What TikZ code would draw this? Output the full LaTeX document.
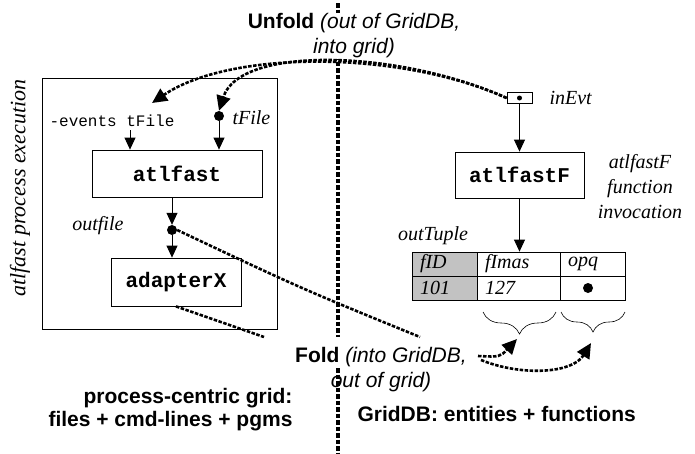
\documentclass[tikz,border=0pt]{standalone}
\usepackage{fontspec}
\setmainfont{Liberation Serif}
\setsansfont{Liberation Sans}
\setmonofont{Liberation Mono}
\usetikzlibrary{arrows.meta,decorations.pathreplacing}
\definecolor{cellgray}{gray}{0.76}
\tikzset{
  pbox/.style={draw, line width=0.8pt, font=\fontsize{21}{24}\selectfont\ttfamily\bfseries},
  lbl/.style={font=\fontsize{20}{25}\selectfont\itshape},
  capt/.style={font=\fontsize{21}{25}\selectfont\sffamily},
  cell/.style={draw, line width=0.8pt, minimum height=24pt, inner ysep=0pt, inner xsep=8pt,
    text width=#1, align=left, font=\fontsize{20}{24}\selectfont\itshape},
  dot/.style={circle, fill, inner sep=0pt, minimum size=#1},
  dot/.default=10pt,
  arr/.style={-{Triangle[length=12pt,width=11pt]}, line width=0.8pt},
  fdash/.style={line width=2.6pt, dash pattern=on 3.5pt off 1.5pt},
  farr/.style={fdash, -{Triangle[length=15pt,width=14pt]}},
  divider/.style={line width=3.5pt, dash pattern=on 4.5pt off 2pt},
  brc/.style={decorate, decoration={brace, mirror, amplitude=#1}, line width=0.6pt}
}
\begin{document}
\begin{tikzpicture}[x=1pt,y=-1pt]
\useasboundingbox (0,0) rectangle (695,453);
% grid | GridDB divider
\draw[divider] (338,3) -- (338,337);
\draw[divider] (338,368) -- (338,453);
% left: process-centric grid
\node[draw, line width=0.8pt, minimum width=235pt, minimum height=251pt] (proc) at (159.5,203.5) {};
\node[lbl, font=\fontsize{22}{25}\selectfont\itshape, rotate=90] (procname) at (20,188) {atlfast process execution};
\node[font=\fontsize{16}{20}\selectfont\ttfamily] (evtxt) at (112,121) {-events tFile};
\node[dot] (tfdot) at (219,116) {};
\node[lbl, anchor=west] (tflbl) at (229,118) {tFile};
\node[pbox, minimum width=170pt, minimum height=47pt] (atlfast) at (177,173.5) {atlfast};
\node[dot] (outdot) at (172,230) {};
\node[lbl, anchor=east] (outlbl) at (127,226) {outfile};
\node[pbox, minimum width=130pt, minimum height=48pt] (adapter) at (176,282) {adapterX};
\coordinate (evin) at ([xshift=18pt]evtxt.south);
\draw[arr] (evin) -- (evin |- atlfast.north);
\draw[arr] (tfdot) -- (tfdot |- atlfast.north);
\draw[arr] (outdot |- atlfast.south) -- (outdot.north);
\draw[arr] (outdot) -- (outdot |- adapter.north);
% right: GridDB
\node[draw, line width=0.8pt, minimum width=25pt, minimum height=11pt, inner sep=0pt] (inevt) at (519.5,98) {};
\node[dot=5pt] (evdot) at (inevt) {};
\node[lbl, anchor=west] (evlbl) at (546,98) {inEvt};
\node[pbox, minimum width=129pt, minimum height=46pt] (atlfastF) at (519.5,175) {atlfastF};
\node[lbl, align=center] (fnlbl) at (640,187) {atlfastF\\function\\invocation};
\node[lbl] (tuplbl) at (433,236) {outTuple};
\node[cell=49pt, fill=cellgray] (fid) at (444.5,264) {fID};
\node[cell=67pt] (fimas) at (518.5,264) {fImas};
\node[cell=49pt] (opq) at (592.5,264) {opq};
\node[cell=49pt, fill=cellgray] (fidv) at (444.5,288) {101};
\node[cell=67pt] (fimasv) at (518.5,288) {127};
\node[cell=49pt] (opqv) at (592.5,288) {};
\node[dot] (opqdot) at (588,288) {};
\draw[arr] (inevt.south) -- (atlfastF.north);
\draw[arr] (atlfastF.south) -- (atlfastF.south |- fimas.north);
% braces under the tuple
\draw[brc=22pt] (483,312) -- (556,312);
\draw[brc=20pt] (561,312) -- (625,312);
\coordinate (b1tip) at (517,339);
\coordinate (b2tip) at (591,343);
% unfold / fold
\node[capt, fill=white, inner sep=1pt, align=center] (unfold) at (354,36)
  {\textbf{Unfold} \textit{(out of GridDB,}\\\textit{into grid)}};
\node[capt, align=center] (fold) at (381,370)
  {\textbf{Fold} \textit{(into GridDB,}\\\textit{out of grid)}};
\node[capt, font=\fontsize{21}{23}\selectfont\sffamily\bfseries, align=right, anchor=east] (pcgrid) at (296,410)
  {process-centric grid:\\files + cmd-lines + pgms};
\node[capt, font=\fontsize{21}{23}\selectfont\sffamily\bfseries, anchor=west] (gdb) at (354,414) {GridDB: entities + functions};
\coordinate (evend) at (152,103);
\coordinate (outcut) at (420,337);
\coordinate (adpcut) at (264,337);
\coordinate (fa1) at (478,356);
\coordinate (fa2) at (481,360);
\draw[farr] (inevt.west) .. controls (400,50) and (230,50) .. (evend);
\draw[farr] (inevt.west) .. controls (400,50) and (240,45) .. (tfdot.north);
\draw[fdash] (outdot.east) .. controls (300,288) .. (outcut);
\draw[fdash] (adapter.south) -- (adpcut);
\draw[farr] (fa1) .. controls (500,357) .. (b1tip);
\draw[farr] (fa2) .. controls (520,376) and (572,374) .. (b2tip);
\end{tikzpicture}
\end{document}
